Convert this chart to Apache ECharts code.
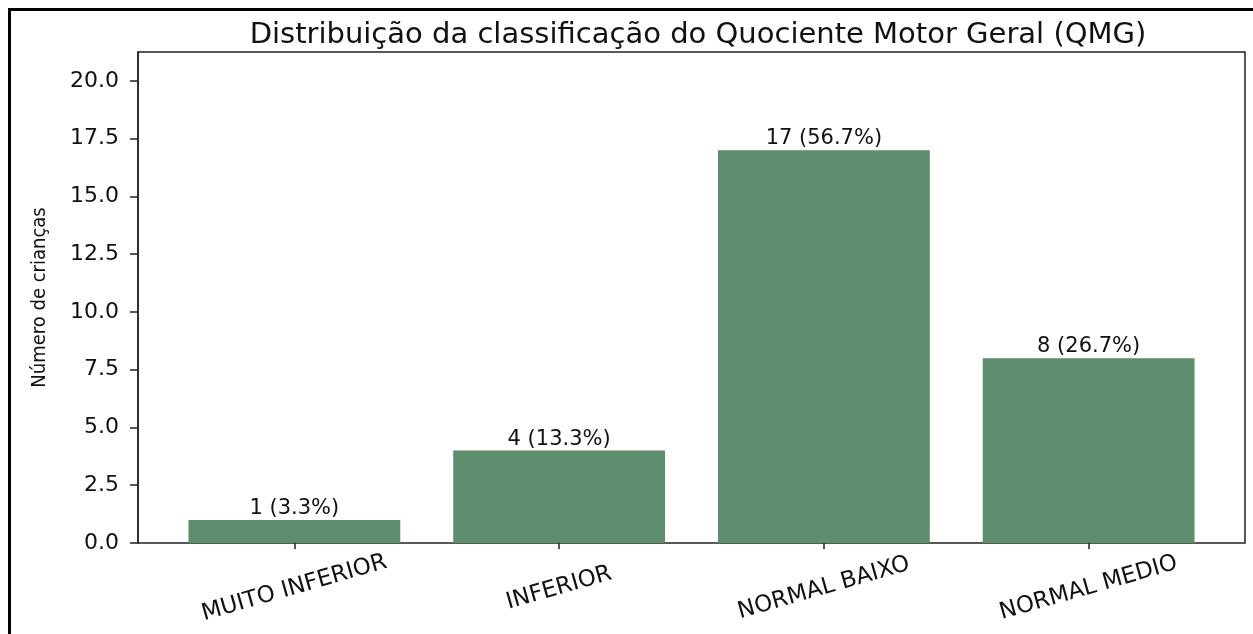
<!DOCTYPE html>
<html style="height: 100%">
<head>
    <meta charset="utf-8">
</head>
<body style="height: 100%; margin: 0; background-color: #fff;">
<div id="container" style="width: 1253px; height: 634px;"></div>
<script type="text/javascript" src="https://cdn.jsdelivr.net/npm/echarts@6/dist/echarts.min.js"></script>
<script type="text/javascript">
var categories = ['MUITO INFERIOR', 'INFERIOR', 'NORMAL BAIXO', 'NORMAL MEDIO'];
var counts = [1, 4, 17, 8];
var yTicks = [0, 2.5, 5, 7.5, 10, 12.5, 15, 17.5, 20];

var total = counts.reduce(function (a, b) { return a + b; }, 0);
var barColor = '#5e8d6e';
var font = 'DejaVu Sans';

var chart = echarts.init(document.getElementById('container'));

var option = {
    animation: false,
    title: {
        text: 'Distribuição da classificação do Quociente Motor Geral (QMG)',
        left: 693,
        textAlign: 'center',
        top: 16,
        textStyle: { fontFamily: font, fontSize: 29, fontWeight: 'normal', color: '#111' }
    },
    grid: [
        { left: 162, right: 32, top: 52, bottom: 91 },
        { left: 138, right: 8, top: 52, bottom: 91, show: true, borderColor: '#222', borderWidth: 1.5, backgroundColor: 'transparent' }
    ],
    xAxis: [{
        type: 'category',
        data: categories,
        gridIndex: 0,
        axisLine: { show: false },
        axisTick: { show: true, alignWithLabel: true, length: 6, lineStyle: { color: '#222', width: 1.5 } },
        axisLabel: {
            rotate: 16,
            align: 'center',
            verticalAlign: 'middle',
            margin: 45,
            fontFamily: font,
            fontSize: 23,
            color: '#111'
        }
    }, {
        type: 'value', gridIndex: 1, show: false
    }],
    yAxis: [{
        type: 'value',
        gridIndex: 0,
        min: 0,
        max: 21.25,
        offset: 24,
        name: 'Número de crianças',
        nameLocation: 'middle',
        nameGap: 88,
        nameTextStyle: { fontFamily: 'DejaVu Sans Condensed, Liberation Sans Narrow, DejaVu Sans', fontSize: 20, color: '#111' },
        splitLine: { show: false },
        axisLine: { show: true, lineStyle: { color: '#222', width: 1.5 } },
        axisTick: { show: true, length: 8, customValues: yTicks, lineStyle: { color: '#222', width: 1.5 } },
        axisLabel: {
            customValues: yTicks,
            margin: 19,
            fontFamily: font,
            fontSize: 22,
            color: '#111',
            formatter: function (v) { return v.toFixed(1); }
        }
    }, {
        type: 'value', gridIndex: 1, show: false
    }],
    series: [{
        type: 'bar',
        xAxisIndex: 0,
        yAxisIndex: 0,
        data: counts,
        barWidth: '80%',
        itemStyle: { color: barColor },
        label: {
            show: true,
            position: 'top',
            distance: 1,
            fontFamily: font,
            fontSize: 21,
            color: '#111',
            formatter: function (p) {
                return p.value + ' (' + (p.value / total * 100).toFixed(1) + '%)';
            }
        }
    }],
    graphic: [{
        type: 'polyline',
        shape: { points: [[9.5, 634], [9.5, 9.5], [1253, 9.5]] },
        style: { stroke: '#000', lineWidth: 3, fill: null }
    }]
};

chart.setOption(option);
</script>
</body>
</html>
